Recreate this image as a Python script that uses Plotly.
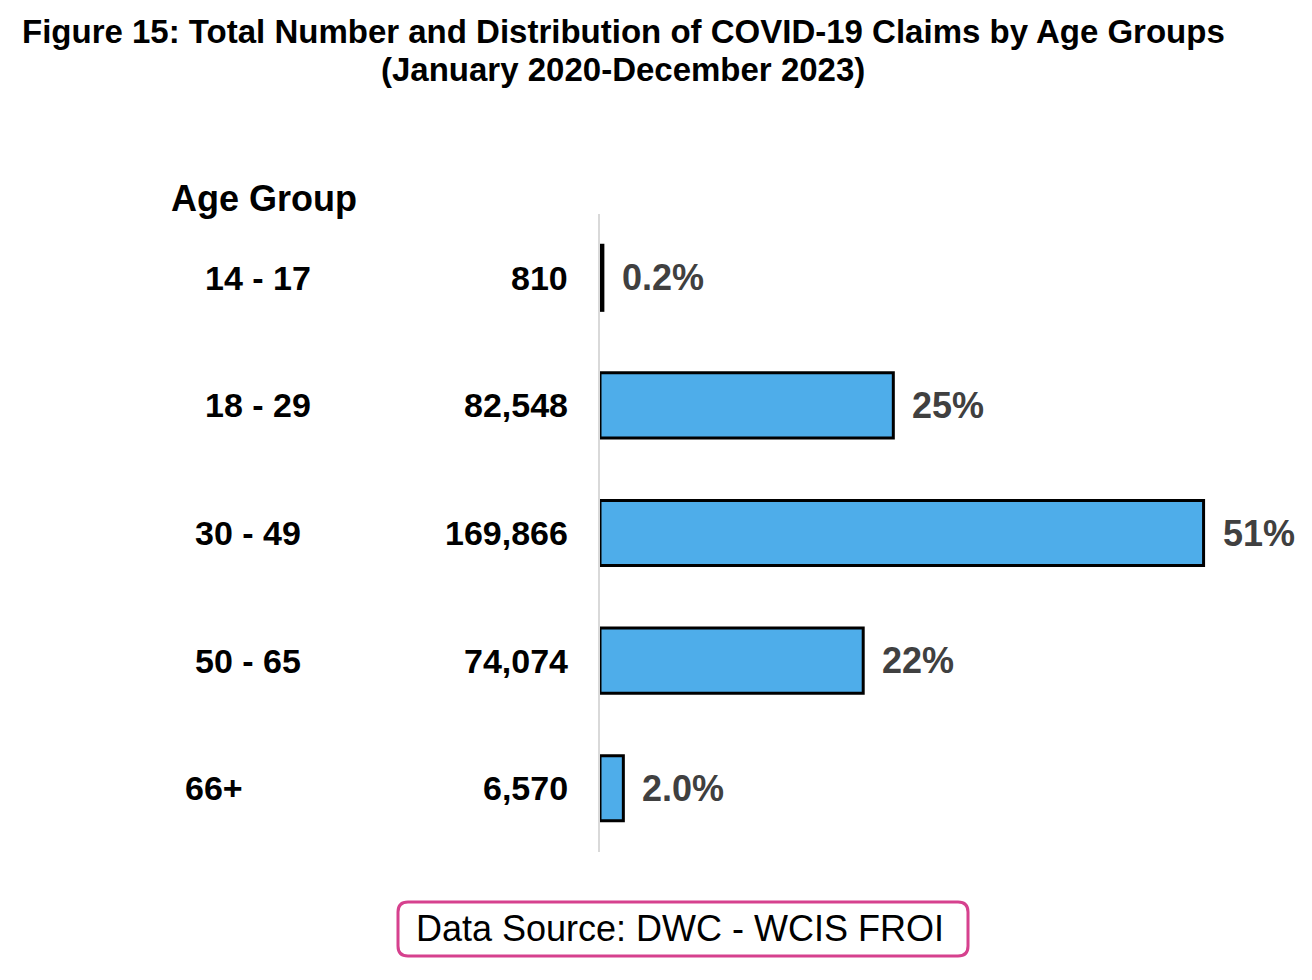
import plotly.graph_objects as go

# Data
age_groups = ["14 - 17", "18 - 29", "30 - 49", "50 - 65", "66+"]
claims = [810, 82548, 169866, 74074, 6570]
pct_labels = ["0.2%", "25%", "51%", "22%", "2.0%"]
title_lines = [
    "Figure 15: Total Number and Distribution of COVID-19 Claims by Age Groups",
    "(January 2020-December 2023)",
]

# Layout helpers (pixels in a 1312x980 page)
W, H = 1312, 980
L, R, T, B = 600, 12, 214, 128
plot_w = W - L - R
plot_h = H - T - B

def px_x(px):
    return (px - L) / plot_w

def px_y(py):
    return (H - B - py) / plot_h

FONT = "Liberation Sans, Arial, sans-serif"
label_left_px = [203, 203, 193, 193, 183]
title_y_px = [32, 69]

fig = go.Figure()

fig.add_trace(go.Bar(
    x=claims,
    y=age_groups,
    orientation="h",
    marker=dict(color="#4EADEA", line=dict(color="black", width=3)),
    hoverinfo="x+y",
    showlegend=False
))

annotations = []
for grp, n, pct, lx in zip(age_groups, claims, pct_labels, label_left_px):
    # age group name on the far left
    annotations.append(dict(
        x=px_x(lx), xref="paper", y=grp, yref="y",
        text=f"<b>{grp}</b>", showarrow=False, xanchor="left",
        font=dict(family=FONT, size=34, color="black")
    ))
    # claim count right aligned next to the axis
    annotations.append(dict(
        x=0, xref="x", y=grp, yref="y", xshift=-30,
        text=f"<b>{n:,}</b>", showarrow=False, xanchor="right",
        font=dict(family=FONT, size=34, color="black")
    ))
    # share at the end of the bar
    annotations.append(dict(
        x=n, xref="x", y=grp, yref="y", xshift=17,
        text=f"<b>{pct}</b>", showarrow=False, xanchor="left",
        font=dict(family=FONT, size=36, color="#404040")
    ))

annotations.append(dict(
    x=px_x(169), xref="paper", y=px_y(198), yref="paper",
    text="<b>Age Group</b>", showarrow=False, xanchor="left", yanchor="middle",
    font=dict(family=FONT, size=36, color="black")
))

for line, ty in zip(title_lines, title_y_px):
    annotations.append(dict(
        x=px_x(623), xref="paper", y=px_y(ty), yref="paper",
        text=f"<b>{line}</b>", showarrow=False, xanchor="center", yanchor="middle",
        font=dict(family=FONT, size=33, color="black")
    ))

annotations.append(dict(
    x=px_x(680), xref="paper", y=px_y(929), yref="paper",
    text="Data Source: DWC - WCIS FROI", showarrow=False,
    xanchor="center", yanchor="middle",
    font=dict(family=FONT, size=36, color="black")
))

fig.update_layout(
    width=W,
    height=H,
    margin=dict(l=L, r=R, t=T, b=B),
    paper_bgcolor="white",
    plot_bgcolor="white",
    bargap=0.49,
    xaxis=dict(visible=False, range=[0, 197000]),
    yaxis=dict(
        categoryorder="array", categoryarray=age_groups, autorange="reversed",
        showticklabels=False, showgrid=False, zeroline=False,
        showline=True, linecolor="#d9d9d9", linewidth=2
    ),
    annotations=annotations,
    shapes=[dict(
        type="path", xref="paper", yref="paper",
        xsizemode="pixel", ysizemode="pixel",
        xanchor=px_x(683), yanchor=px_y(929),
        path="M -275,-27 L 275,-27 Q 285,-27 285,-17 L 285,17 Q 285,27 275,27 "
             "L -275,27 Q -285,27 -285,17 L -285,-17 Q -285,-27 -275,-27 Z",
        line=dict(color="#D6418E", width=3)
    )]
)

fig.write_html("out.html", config={"displayModeBar": False},
               post_script="document.body.style.margin='0';")
